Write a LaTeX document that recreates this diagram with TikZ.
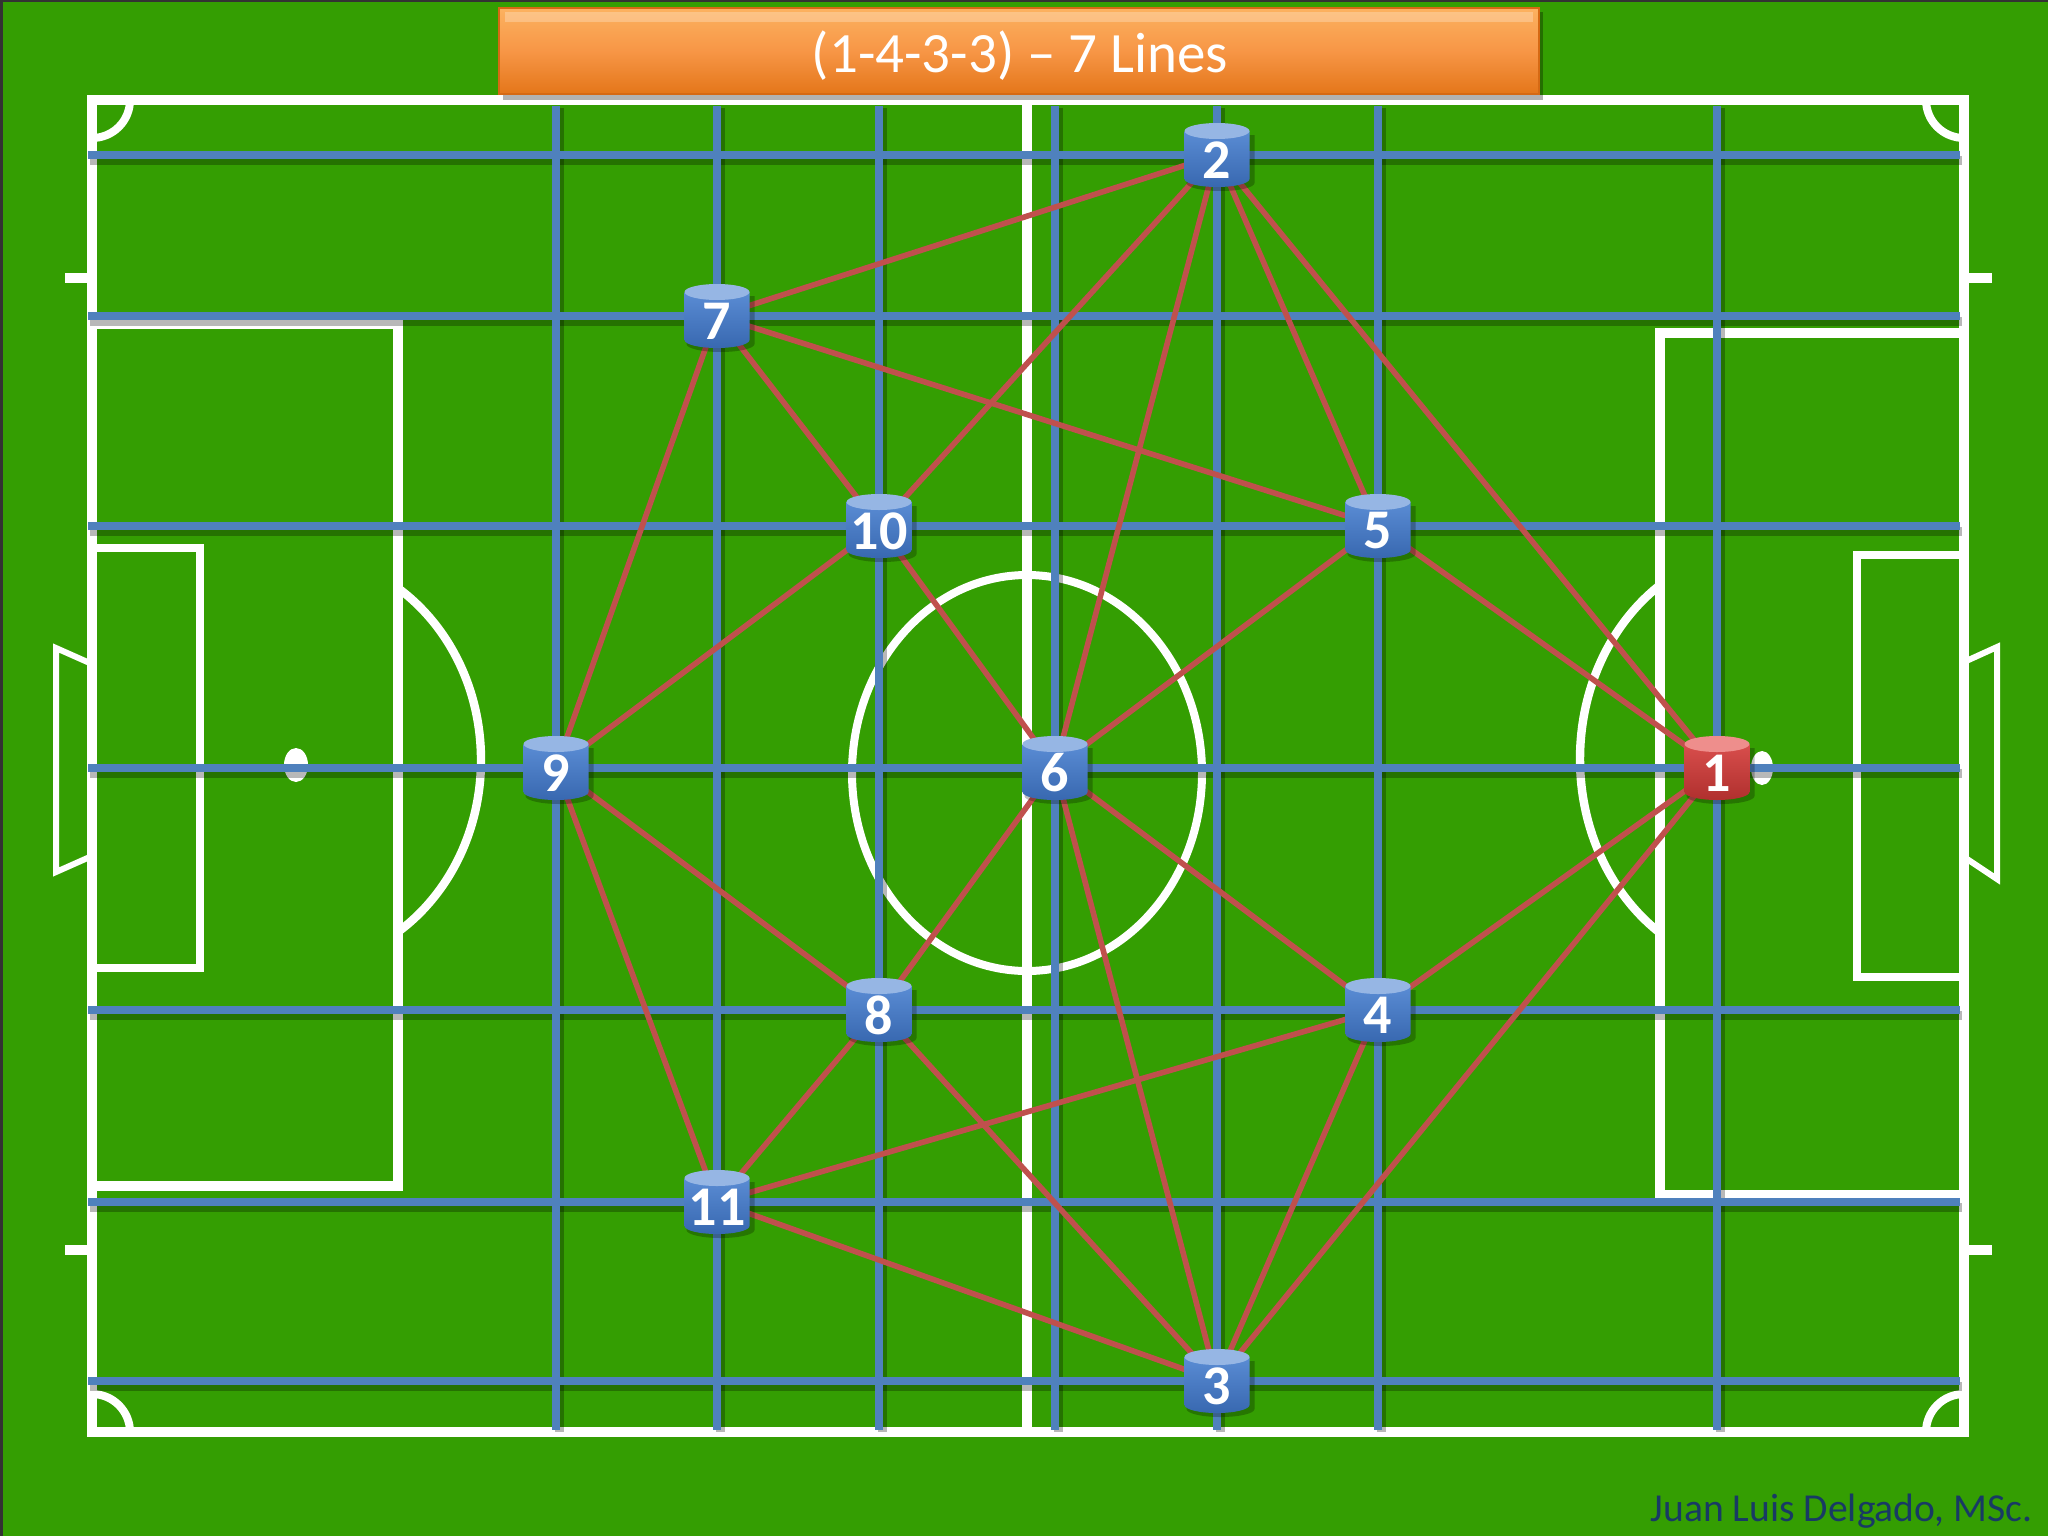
\documentclass[tikz,border=0pt]{standalone}
\usepackage{fontspec}
\setmainfont{Carlito}
\definecolor{bg}{RGB}{52,158,2}
\definecolor{gridblue}{RGB}{79,129,189}
\definecolor{edgered}{RGB}{192,80,77}
\definecolor{creditc}{RGB}{24,58,100}
\definecolor{orT}{RGB}{252,178,96}
\definecolor{orM}{RGB}{247,150,70}
\definecolor{orB}{RGB}{228,118,26}
\definecolor{orD}{RGB}{214,105,20}
\definecolor{nbT}{RGB}{150,182,228}
\definecolor{nbA}{RGB}{90,140,212}
\definecolor{nbB}{RGB}{56,104,176}
\definecolor{nrT}{RGB}{238,142,140}
\definecolor{nrA}{RGB}{216,78,76}
\definecolor{nrB}{RGB}{176,48,46}
\tikzset{
  pics/player/.style n args={3}{code={
    \fill[black,opacity=0.25] (-30.5,-20) -- (-30.5,28) arc[start angle=180,end angle=0,x radius=34,y radius=8] -- (37.5,-20) -- cycle;
    \shade[top color=#1,bottom color=#2] (-32.5,-24) -- (-32.5,24) arc[start angle=180,end angle=0,x radius=32.5,y radius=8] -- (32.5,-24) -- cycle;
    \fill[#3] (0,-24) ellipse[x radius=32.5,y radius=8];
  }},
  pitchline/.style={white,line width=5pt},
  thinpitch/.style={white,line width=3.6pt},
  gridline/.style={gridblue,line width=4pt},
  gridshadow/.style={black,opacity=0.28,line width=4.5pt},
  edgeline/.style={edgered,line width=2.8pt},
  plabel/.style={text=white,font=\bfseries\fontsize{28}{28}\selectfont,inner sep=0pt},
}
\begin{document}
\begin{tikzpicture}[x=0.5pt,y=-0.5pt]
\useasboundingbox (0,0) rectangle (2048,1536);
\fill[bg] (0,0) rectangle (2048,1536);
\fill[black!80] (0,0) rectangle (3,1536);
\fill[black!80] (0,0) rectangle (2048,2);

% named positions
\coordinate (c1) at (1717,768);
\coordinate (c2) at (1217,155);
\coordinate (c3) at (1217,1381);
\coordinate (c4) at (1378,1010);
\coordinate (c5) at (1378,526);
\coordinate (c6) at (1055,768);
\coordinate (c7) at (717,316);
\coordinate (c8) at (879,1010);
\coordinate (c9) at (556,768);
\coordinate (c10) at (879,526);
\coordinate (c11) at (717,1202);

% pitch
\draw[pitchline] (92,100) rectangle (1964,1432);
\draw[pitchline] (1027,100) -- (1027,1432);
\draw[white,line width=4pt] (1027,773) ellipse[x radius=175,y radius=198];
\draw[white,line width=4pt] (130,100) arc[start angle=0,end angle=90,radius=38];
\draw[white,line width=4pt] (1926,100) arc[start angle=180,end angle=90,radius=38];
\draw[white,line width=4pt] (130,1432) arc[start angle=0,end angle=-90,radius=38];
\draw[white,line width=4pt] (1926,1432) arc[start angle=180,end angle=270,radius=38];
\draw[pitchline] (65,278) -- (92,278);
\draw[pitchline] (65,1250) -- (92,1250);
\draw[pitchline] (1964,278) -- (1992,278);
\draw[pitchline] (1964,1250) -- (1992,1250);
% left end
\draw[pitchline] (92,324) -- (398,324) -- (398,1186) -- (92,1186);
\draw[thinpitch] (92,548) -- (200,548) -- (200,968) -- (92,968);
\draw[white,line width=3pt] (92,664) -- (56,648) -- (56,872) -- (92,856);
\fill[white] (296,765) ellipse[x radius=12,y radius=17];
\begin{scope}
\clip (398,0) rectangle (700,1536);
\draw[white,line width=4.2pt] (296,760) ellipse[x radius=185,y radius=206];
\end{scope}
% right end
\draw[pitchline] (1964,333) -- (1660,333) -- (1660,1195) -- (1964,1195);
\draw[thinpitch] (1964,555) -- (1857,555) -- (1857,977) -- (1964,977);
\draw[white,line width=3pt] (1964,662) -- (1997,647) -- (1997,879) -- (1964,857);
\fill[white] (1762,768) ellipse[x radius=11,y radius=17];
\begin{scope}
\clip (1400,0) rectangle (1660,1536);
\draw[white,line width=4.2pt] (1762,759) ellipse[x radius=182,y radius=210];
\end{scope}

% grid lines
\foreach \y in {155,316,526,768,1010,1202,1381}
  \draw[gridshadow] (90,\y+5) -- (1962,\y+5);
\foreach \x in {556,717,879,1055,1217,1378,1717}
  \draw[gridshadow] (\x+3,108) -- (\x+3,1432);
\foreach \y in {155,316,526,768,1010,1202,1381}
  \draw[gridline] (88,\y) -- (1960,\y);
\foreach \x in {556,717,879,1055,1217,1378,1717}
  \draw[gridline] (\x,106) -- (\x,1430);

% connections
\draw[edgeline] (c2) -- (c7);
\draw[edgeline] (c2) -- (c10);
\draw[edgeline] (c2) -- (c6);
\draw[edgeline] (c2) -- (c5);
\draw[edgeline] (c2) -- (c1);
\draw[edgeline] (c7) -- (c10);
\draw[edgeline] (c7) -- (c9);
\draw[edgeline] (c7) -- (c5);
\draw[edgeline] (c10) -- (c9);
\draw[edgeline] (c10) -- (c6);
\draw[edgeline] (c5) -- (c6);
\draw[edgeline] (c5) -- (c1);
\draw[edgeline] (c9) -- (c8);
\draw[edgeline] (c9) -- (c11);
\draw[edgeline] (c6) -- (c8);
\draw[edgeline] (c6) -- (c4);
\draw[edgeline] (c6) -- (c3);
\draw[edgeline] (c8) -- (c11);
\draw[edgeline] (c8) -- (c3);
\draw[edgeline] (c4) -- (c1);
\draw[edgeline] (c4) -- (c11);
\draw[edgeline] (c4) -- (c3);
\draw[edgeline] (c1) -- (c3);
\draw[edgeline] (c11) -- (c3);

% players
\foreach \i in {2,3,4,5,6,7,8,9,10,11}
  \pic at (c\i) {player={nbA}{nbB}{nbT}};
\pic at (c1) {player={nrA}{nrB}{nrT}};
\foreach \i in {1,2,3,4,5,6,7,8,9,10,11}
  \node[plabel] (n\i) at ([yshift=-2.5pt]c\i) {\i};

% title
\fill[black,opacity=0.3] (503,12) rectangle (1543,100);
\shade[top color=orT,bottom color=orB,middle color=orM,draw=orD,line width=1pt] (499,8) rectangle (1539,94);
\fill[white,opacity=0.25] (505,12) rectangle (1533,22);
\node[anchor=base,text=white,font=\fontsize{28.5}{30}\selectfont,inner sep=0pt] (title) at (1020,73) {(1-4-3-3) – 7 Lines};

% credit
\node[anchor=base east,text=creditc,font=\fontsize{19.8}{22}\selectfont,inner sep=0pt] (credit) at (2033,1521) {Juan Luis Delgado, MSc.};
\end{tikzpicture}
\end{document}
